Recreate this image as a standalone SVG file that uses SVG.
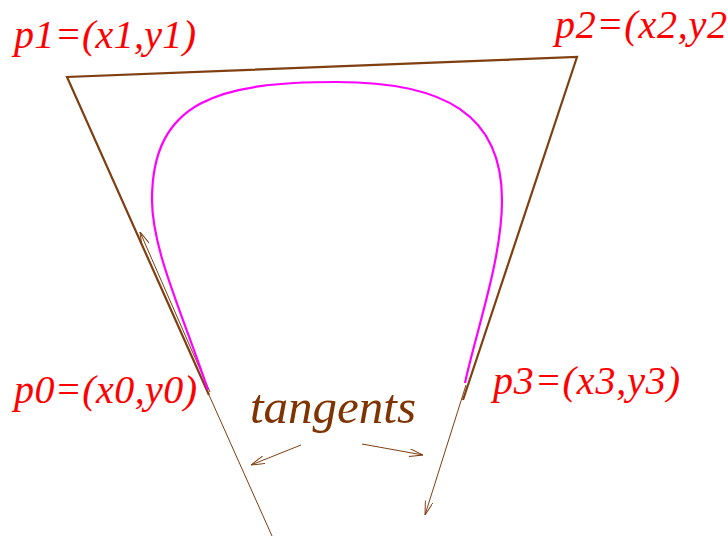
<svg xmlns="http://www.w3.org/2000/svg" width="728" height="536" viewBox="0 0 728 536">
<style>
.lbl{font-family:"Liberation Serif","Times New Roman",serif;font-style:italic;fill:#ff0000;font-size:40px}
.tan{font-family:"Liberation Serif","Times New Roman",serif;font-style:italic;fill:#7f3300;font-size:49px}
.thick{stroke:#7f3f10;stroke-width:2.2;fill:none}
.thin{stroke:#7f3f10;stroke-width:1;fill:none}
.curve{stroke:#ff00ff;stroke-width:2.2;fill:none}
</style>
<defs>
<marker id="v" viewBox="0 0 14 8" refX="14" refY="4" markerWidth="14" markerHeight="8" markerUnits="userSpaceOnUse" orient="auto">
<path d="M0,0 L14,4 L0,8" fill="none" stroke="#7f3f10" stroke-width="1"/>
</marker>
</defs>
<g id="connectors">
<path class="thick" d="M209,395 L67,77 L577,57 L463,400"/>
<path class="thin" d="M209,395 L272,536"/>
<path class="thin" d="M210,392 L140,232" marker-end="url(#v)"/>
<path class="thin" d="M466,385 L425,515" marker-end="url(#v)"/>
<path class="thin" d="M301,445 L251,465" marker-end="url(#v)"/>
<path class="thin" d="M362,444 L423,455" marker-end="url(#v)"/>
</g>
<g id="curve">
<path class="curve" d="M208,390 C183,315 152,250 152,200 C152,100 220,82 337,82 C445,82 502,115 502,200 C502,260 475.5,333 465,383"/>
</g>
<g id="p1"><text class="lbl" x="14" y="48" textLength="182" lengthAdjust="spacing">p1=(x1,y1)</text></g>
<g id="p2"><text class="lbl" x="555" y="38" textLength="172" lengthAdjust="spacing">p2=(x2,y2</text></g>
<g id="p0"><text class="lbl" x="14" y="403" textLength="183" lengthAdjust="spacing">p0=(x0,y0)</text></g>
<g id="p3"><text class="lbl" x="493" y="394" textLength="187" lengthAdjust="spacing">p3=(x3,y3)</text></g>
<g id="tangents"><text class="tan" x="250" y="423">tangents</text></g>
</svg>
